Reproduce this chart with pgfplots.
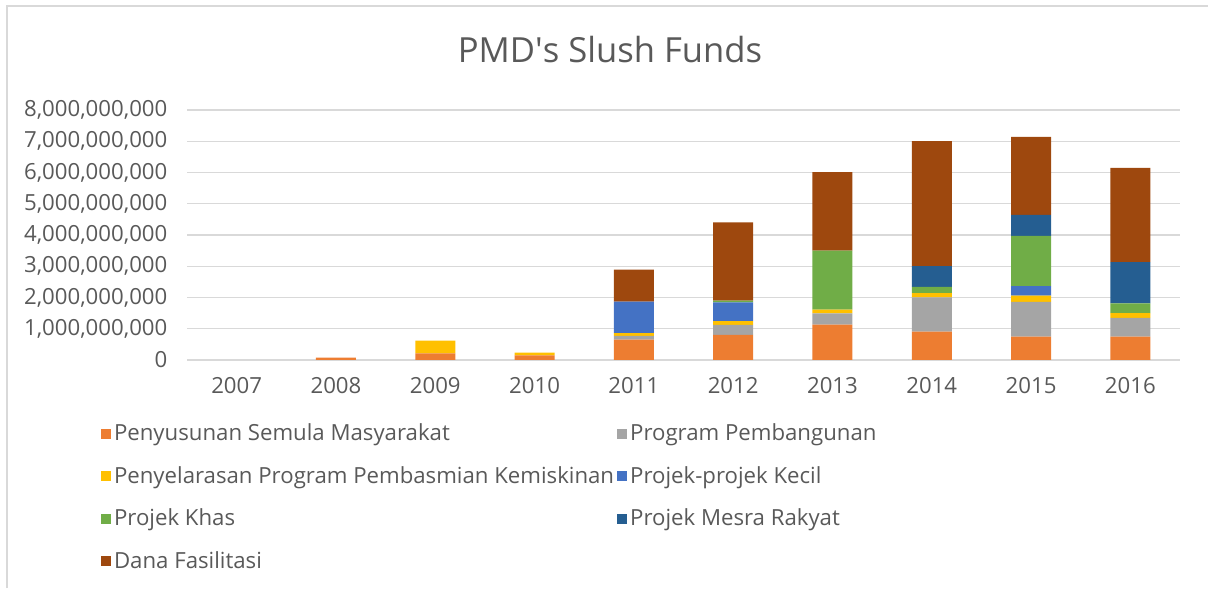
\documentclass[border=0pt]{standalone}
\usepackage{pgfplots}
\usepackage{pgfplotstable}
\pgfplotsset{compat=1.18}
\usepackage{fontspec}
\setmainfont{Open Sans}

\definecolor{cA}{HTML}{ED7D31}
\definecolor{cB}{HTML}{A5A5A5}
\definecolor{cC}{HTML}{FFC000}
\definecolor{cD}{HTML}{4472C4}
\definecolor{cE}{HTML}{70AD47}
\definecolor{cF}{HTML}{255E91}
\definecolor{cG}{HTML}{9E480E}
\definecolor{txt}{HTML}{595959}
\definecolor{gridc}{HTML}{D9D9D9}

% values (RM)
\pgfplotstableread{
year  a          b          c          d          e          f          g
2007  0          0          0          0          0          0          0
2008  75000000   0          0          0          0          0          0
2009  210000000  0          410000000  0          0          0          0
2010  150000000  0          85000000   0          0          0          0
2011  650000000  120000000  90000000   1010000000 0          0          1020000000
2012  800000000  320000000  120000000  600000000  60000000   0          2500000000
2013  1130000000 360000000  120000000  0          1890000000 0          2510000000
2014  910000000  1090000000 140000000  0          200000000  660000000  4000000000
2015  750000000  1110000000 200000000  300000000  1610000000 670000000  2500000000
2016  750000000  600000000  150000000  0          310000000  1320000000 3020000000
}\funds

\begin{document}
\begin{tikzpicture}[x=1pt,y=1pt]
\useasboundingbox (0,0) rectangle (604,294);
\draw[gridc, line width=1.2pt] (3.5,0) -- (3.5,291) -- (604,291);
\node[text=txt, font=\fontsize{17.3}{20}\selectfont] at (305,269) {PMD\textquotesingle s Slush Funds};
\begin{axis}[
    at={(93.5pt,114pt)}, anchor=south west,
    width=496.5pt, height=125pt, scale only axis,
    ybar stacked, bar width=20pt,
    xmin=2006.5, xmax=2016.5, ymin=0, ymax=8e9,
    xtick={2007,2008,2009,2010,2011,2012,2013,2014,2015,2016},
    xticklabels={2007,2008,2009,2010,2011,2012,2013,2014,2015,2016},
    ytick={0,1e9,2e9,3e9,4e9,5e9,6e9,7e9,8e9},
    scaled y ticks=false,
    yticklabel style={/pgf/number format/fixed, /pgf/number format/precision=0,
        /pgf/number format/1000 sep={,}, xshift=-6.3pt},
    xticklabel style={yshift=-5pt},
    /pgf/number format/assume math mode=true,
    tick label style={text=txt, font=\fontsize{11.1}{13}\selectfont},
    major tick length=0pt,
    axis line style={draw=none},
    ymajorgrids, grid style={gridc, line width=0.7pt},
    legend columns=2,
    legend style={at={(-0.093,-0.226)}, anchor=north west, draw=none, fill=none,
        text=txt, font=\fontsize{11.1}{13}\selectfont,
        row sep=8.3pt, column sep=0pt,
        nodes={inner sep=1.5pt}},
    legend cell align=left,
    legend image code/.code={\fill[#1] (0pt,-2.5pt) rectangle (5pt,2.5pt);},
]
\addplot[fill=cA, draw=none] table[x=year, y=a] {\funds};
\addplot[fill=cB, draw=none] table[x=year, y=b] {\funds};
\addplot[fill=cC, draw=none] table[x=year, y=c] {\funds};
\addplot[fill=cD, draw=none] table[x=year, y=d] {\funds};
\addplot[fill=cE, draw=none] table[x=year, y=e] {\funds};
\addplot[fill=cF, draw=none] table[x=year, y=f] {\funds};
\addplot[fill=cG, draw=none] table[x=year, y=g] {\funds};
\legend{Penyusunan Semula Masyarakat, Program Pembangunan,
    Penyelarasan Program Pembasmian Kemiskinan, Projek-projek Kecil,
    Projek Khas, Projek Mesra Rakyat, Dana Fasilitasi}
\end{axis}
\end{tikzpicture}
\end{document}
